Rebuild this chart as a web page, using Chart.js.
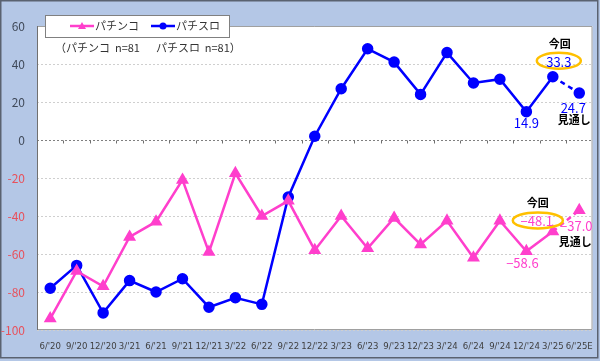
<!DOCTYPE html>
<html>
<head>
<meta charset="utf-8">
<script src="https://cdn.jsdelivr.net/npm/chart.js@4"></script>
<style>
  body { margin: 0; }
  #wrap { width: 600px; height: 361px; }
</style>
</head>
<body>
<div id="wrap"><canvas id="myChart" width="600" height="361"></canvas></div>
<script>
const labels = ["6/'20", "9/'20", "12/'20", "3/'21", "6/'21", "9/'21", "12/'21", "3/'22", "6/'22", "9/'22",
  "12/'22", "3/'23", "6/'23", "9/'23", "12/'23", "3/'24", "6/'24", "9/'24", "12/'24", "3/'25", "6/'25E"];
const pachinko = [-94, -69, -77, -51, -43, -21, -59, -17.5, -40, -32, -58, -40, -57, -41, -55, -42.5, -62, -42.5, -58.6, -48.1, -37.0];
const pachislo = [-78, -66, -91, -74, -80, -73, -88, -83, -86.5, -30, 2, 27, 48, 41, 24, 46, 30, 32, 14.9, 33.3, 24.7];
const yTicks = [60, 40, 20, 0, -20, -40, -60, -80, -100];

const PINK = "#ff3fcc";
const BLUE = "#0000ff";
const FONT = "'Noto Sans CJK JP', 'DejaVu Sans', sans-serif";
const NARROW = "'DejaVu Sans Condensed', 'Liberation Sans Narrow', 'DejaVu Sans', sans-serif";

const dashLast = (ctx) => (ctx.p1DataIndex === labels.length - 1 ? [5, 4] : undefined);

const decor = {
  id: "decor",
  beforeDraw(chart) {
    const c = chart.ctx;
    const a = chart.chartArea;
    c.save();
    c.fillStyle = "#b4c7e6";
    c.fillRect(0, 0, 600, 361);
    c.strokeStyle = "#5a6270";
    c.lineWidth = 1.5;
    c.strokeRect(0.75, 0.75, 597, 357);
    c.fillStyle = "#ffffff";
    c.fillRect(a.left, a.top, a.right - a.left, a.bottom - a.top);
    c.restore();
  },
  afterDatasetsDraw(chart) {
    const c = chart.ctx;
    const a = chart.chartArea;
    const x = chart.scales.x;
    const y = chart.scales.y;
    c.save();
    // plot border
    c.strokeStyle = "#a0a0a0";
    c.lineWidth = 1;
    c.beginPath();
    c.moveTo(a.left, a.top + 0.5);
    c.lineTo(a.right - 0.5, a.top + 0.5);
    c.lineTo(a.right - 0.5, a.bottom - 0.5);
    c.lineTo(a.left, a.bottom - 0.5);
    c.stroke();
    c.strokeStyle = "#707070";
    c.beginPath();
    c.moveTo(a.left + 0.5, a.top);
    c.lineTo(a.left + 0.5, a.bottom);
    c.stroke();
    // ticks on zero line
    const y0 = Math.round(y.getPixelForValue(0)) + 0.5;
    c.beginPath();
    for (let i = 1; i < labels.length; i++) {
      const px = Math.round((x.getPixelForValue(i - 1) + x.getPixelForValue(i)) / 2) + 0.5;
      c.moveTo(px, y0);
      c.lineTo(px, y0 + 3);
    }
    c.stroke();

    // legend box
    c.fillStyle = "#ffffff";
    c.fillRect(45, 15, 184, 22);
    c.strokeStyle = "#808080";
    c.strokeRect(45.5, 15.5, 184, 22);
    c.lineWidth = 2.5;
    c.strokeStyle = PINK;
    c.beginPath(); c.moveTo(70, 26); c.lineTo(94, 26); c.stroke();
    c.fillStyle = PINK;
    c.beginPath(); c.moveTo(82, 22); c.lineTo(86, 29); c.lineTo(78, 29); c.closePath(); c.fill();
    c.strokeStyle = BLUE;
    c.beginPath(); c.moveTo(151, 26); c.lineTo(175, 26); c.stroke();
    c.fillStyle = BLUE;
    c.beginPath(); c.arc(163, 26, 3.5, 0, Math.PI * 2); c.fill();
    c.fillStyle = "#333333";
    c.font = "11px " + FONT;
    c.textBaseline = "middle";
    c.textAlign = "left";
    c.fillText(chart.data.datasets[0].label, 95, 26);
    c.fillText(chart.data.datasets[1].label, 176, 26);
    c.fillText("（パチンコ  n=81　  パチスロ  n=81）", 55, 48);

    // annotations
    const last = labels.length - 1;
    const cur = last - 1;
    const low = last - 2;
    const px = (i) => x.getPixelForValue(i);
    const text = (s, tx, ty, col, align) => {
      c.fillStyle = col;
      c.textAlign = align || "center";
      c.fillText(s, tx, ty);
    };
    const ellipse = (cx, cy, rx, ry) => {
      c.strokeStyle = "#ffc000";
      c.lineWidth = 2.5;
      c.beginPath();
      c.ellipse(cx, cy, rx, ry, 0, 0, Math.PI * 2);
      c.stroke();
    };
    const num = "13px " + FONT;
    const note = "bold 11px " + FONT;
    // pachislo
    let bx = px(cur), by = y.getPixelForValue(pachislo[cur]);
    ellipse(bx + 6, by - 16, 22, 8);
    c.font = num;
    text(pachislo[cur].toFixed(1), bx + 6, by - 15, BLUE);
    c.font = note;
    text("今回", bx + 7, by - 33, "#000000");
    bx = px(last); by = y.getPixelForValue(pachislo[last]);
    c.font = num;
    text(pachislo[last].toFixed(1), bx - 6, by + 15, BLUE);
    c.font = note;
    text("見通し", bx - 5, by + 27, "#000000");
    bx = px(low); by = y.getPixelForValue(pachislo[low]);
    c.font = num;
    text(pachislo[low].toFixed(1), bx, by + 11, BLUE);
    // pachinko
    bx = px(cur); by = y.getPixelForValue(pachinko[cur]);
    ellipse(bx - 15, by - 11, 25, 8);
    c.font = num;
    text(pachinko[cur].toFixed(1).replace("-", "\u2212"), bx - 16, by - 10, PINK);
    c.font = note;
    text("今回", bx - 15, by - 29, "#000000");
    bx = px(last); by = y.getPixelForValue(pachinko[last]);
    c.font = num;
    text(pachinko[last].toFixed(1).replace("-", "\u2212"), bx - 3, by + 16, PINK);
    c.font = note;
    text("見通し", bx - 4, by + 32, "#000000");
    bx = px(low); by = y.getPixelForValue(pachinko[low]);
    c.font = num;
    text(pachinko[low].toFixed(1).replace("-", "\u2212"), bx - 4, by + 12, PINK);
    c.restore();
  }
};

const ctx = document.getElementById("myChart").getContext("2d");
const myChart = new Chart(ctx, {
  type: "line",
  data: {
    labels: labels,
    datasets: [
      {
        label: "パチンコ",
        data: pachinko,
        borderColor: PINK,
        backgroundColor: PINK,
        borderWidth: 2.5,
        pointStyle: "triangle",
        pointRadius: 5,
        pointHoverRadius: 5,
        fill: false,
        tension: 0,
        segment: { borderDash: dashLast },
      },
      {
        label: "パチスロ",
        data: pachislo,
        borderColor: BLUE,
        backgroundColor: BLUE,
        borderWidth: 2.5,
        pointStyle: "circle",
        pointRadius: 4.5,
        pointHoverRadius: 4.5,
        fill: false,
        tension: 0,
        segment: { borderDash: dashLast },
      },
    ],
  },
  options: {
    responsive: false,
    animation: false,
    layout: { padding: { left: 0, top: 26, right: 7, bottom: 0 } },
    plugins: {
      legend: { display: false },
      tooltip: { enabled: false },
    },
    scales: {
      x: {
        offset: true,
        grid: { display: false },
        border: { display: false },
        ticks: {
          color: "#404040",
          font: { family: NARROW, size: 9.5 },
          maxRotation: 0,
          autoSkip: false,
          padding: 3,
        },
        afterFit: (s) => { s.height = 31; },
      },
      y: {
        min: -100,
        max: 60,
        afterBuildTicks: (s) => { s.ticks = yTicks.map((v) => ({ value: v })); },
        grid: {
          color: (c) => (c.tick.value === 0 ? "#808080" : "#cfcfcf"),
          lineWidth: 1,
          drawTicks: false,
        },
        border: { display: false, dash: [2, 2] },
        ticks: {
          color: (c) => (c.tick.value < 0 ? "#e8505b" : "#404a5a"),
          font: { family: FONT, size: 12 },
          padding: 12,
          callback: (v) => String(v),
        },
        afterFit: (s) => { s.width = 37; },
      },
    },
  },
  plugins: [decor],
});
</script>
</body>
</html>
